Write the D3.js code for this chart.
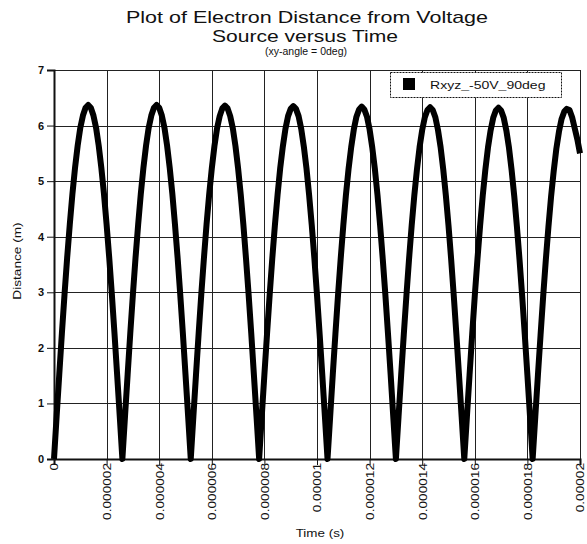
<!DOCTYPE html>
<html>
<head>
<meta charset="utf-8">
<script src="https://cdn.jsdelivr.net/npm/d3@7"></script>
<style>
  html, body { margin: 0; padding: 0; background: #fff; }
  svg { display: block; font-family: "Liberation Sans", Arial, sans-serif; }
</style>
</head>
<body>
<svg id="chart" width="587" height="544"></svg>
<script>
// ---- data ----
const titleLines = ["Plot of Electron Distance from Voltage", "Source versus Time"];
const subtitle = "(xy-angle = 0deg)";
const xLabel = "Time (s)";
const yLabel = "Distance (m)";
const seriesName = "Rxyz_-50V_90deg";

const timeStep = 1e-7; // samples every 0.1 microsecond, 0 .. 2e-5 s
const arch1 = [0,0.77,1.52,2.26,2.96,3.62,4.22,4.77,5.24,5.64,5.96,6.18,6.32,6.37,6.32,6.18,5.96,5.64,5.24,4.77,4.22,3.62,2.96,2.26,1.52,0.77];
const arch2 = [0,0.77,1.52,2.26,2.96,3.62,4.22,4.77,5.24,5.64,5.96,6.18,6.32,6.37,6.32,6.18,5.96,5.64,5.24,4.77,4.22,3.62,2.96,2.26,1.52,0.77];
const arch3 = [0,0.77,1.52,2.26,2.96,3.61,4.22,4.76,5.23,5.63,5.95,6.17,6.31,6.36,6.31,6.17,5.95,5.63,5.23,4.76,4.22,3.61,2.96,2.26,1.52,0.77];
const arch4 = [0,0.77,1.52,2.25,2.95,3.61,4.21,4.75,5.23,5.62,5.94,6.17,6.30,6.35,6.30,6.17,5.94,5.62,5.23,4.75,4.21,3.61,2.95,2.25,1.52,0.77];
const arch5 = [0,0.76,1.52,2.25,2.95,3.60,4.20,4.75,5.22,5.61,5.93,6.16,6.29,6.34,6.29,6.16,5.93,5.61,5.22,4.75,4.20,3.60,2.95,2.25,1.52,0.76];
const arch6 = [0,0.76,1.51,2.24,2.94,3.60,4.20,4.74,5.21,5.61,5.92,6.15,6.28,6.33,6.28,6.15,5.92,5.61,5.21,4.74,4.20,3.60,2.94,2.24,1.51,0.76];
const arch7 = [0,0.76,1.51,2.24,2.94,3.59,4.19,4.73,5.20,5.60,5.91,6.14,6.27,6.32,6.27,6.14,5.91,5.60,5.20,4.73,4.19,3.59,2.94,2.24,1.51,0.76];
const arch8 = [0,0.76,1.51,2.23,2.93,3.58,4.18,4.72,5.18,5.58,5.89,6.12,6.25,6.30,6.28,6.15,5.95,5.75,5.50];

const xTickValues = [0,2e-6,4e-6,6e-6,8e-6,1e-5,1.2e-5,1.4e-5,1.6e-5,1.8e-5,2e-5];
const xTickLabels = ["0","0.000002","0.000004","0.000006","0.000008","0.00001","0.000012","0.000014","0.000016","0.000018","0.00002"];
const yTickValues = [0,1,2,3,4,5,6,7];
const yTickLabels = ["0","1","2","3","4","5","6","7"];

// ---- build ----
const distance = [].concat(arch1, arch2, arch3, arch4, arch5, arch6, arch7, arch8);
const data = distance.map((d, i) => ({ t: i * timeStep, d: d }));

const svg = d3.select("#chart");
const plot = { left: 54, right: 580, top: 70, bottom: 459 };
const FONT = "Liberation Sans, Arial, sans-serif";

const x = d3.scaleLinear().domain([0, 2e-5]).range([plot.left, plot.right]);
const y = d3.scaleLinear().domain([0, 7]).range([plot.bottom, plot.top]);

// the reference's lettering is horizontally wide: stretch along the text direction
function stretch(sel, k) {
  sel.each(function () {
    const w = this.getComputedTextLength();
    d3.select(this).attr("textLength", w * k).attr("lengthAdjust", "spacingAndGlyphs");
  });
}

// titles
svg.append("text").attr("x", 307).attr("y", 23).attr("text-anchor", "middle")
  .attr("font-size", 17).attr("fill", "#111").text(titleLines[0])
  .attr("textLength", 362).attr("lengthAdjust", "spacingAndGlyphs");
svg.append("text").attr("x", 305).attr("y", 41.5).attr("text-anchor", "middle")
  .attr("font-size", 17).attr("fill", "#111").text(titleLines[1])
  .attr("textLength", 186).attr("lengthAdjust", "spacingAndGlyphs");
svg.append("text").attr("x", 306).attr("y", 54.5).attr("text-anchor", "middle")
  .attr("font-size", 10).attr("fill", "#111").text(subtitle)
  .attr("textLength", 82).attr("lengthAdjust", "spacingAndGlyphs");

// grid
const grid = svg.append("g").attr("stroke", "#222").attr("stroke-width", 1);
grid.selectAll("line.h").data(yTickValues.slice(1)).join("line").attr("class", "h")
  .attr("x1", plot.left).attr("x2", plot.right)
  .attr("y1", d => Math.round(y(d)) + 0.5).attr("y2", d => Math.round(y(d)) + 0.5);
grid.selectAll("line.v").data(xTickValues.slice(1)).join("line").attr("class", "v")
  .attr("y1", plot.top).attr("y2", plot.bottom)
  .attr("x1", d => Math.round(x(d)) + 0.5).attr("x2", d => Math.round(x(d)) + 0.5);

// y axis
const yAxis = d3.axisLeft(y).tickValues(yTickValues).tickFormat((d, i) => yTickLabels[i])
  .tickSize(7).tickPadding(3);
const gy = svg.append("g").attr("transform", `translate(${plot.left},0)`).call(yAxis);
gy.select(".domain").attr("stroke", "#111").attr("stroke-width", 2);
gy.selectAll(".tick line").attr("stroke", "#111");
gy.selectAll(".tick text").attr("font-size", 11).attr("font-weight", "bold")
  .attr("fill", "#111").attr("font-family", FONT);

// x axis
const xAxis = d3.axisBottom(x).tickValues(xTickValues).tickFormat((d, i) => xTickLabels[i])
  .tickSize(6).tickPadding(3);
const gx = svg.append("g").attr("transform", `translate(0,${plot.bottom})`).call(xAxis);
gx.select(".domain").attr("stroke", "#111").attr("stroke-width", 2);
gx.selectAll(".tick line").attr("stroke", "#111");
gx.selectAll(".tick text")
  .attr("font-size", 11).attr("fill", "#111").attr("font-family", FONT)
  .attr("text-anchor", "end").attr("dy", "0.35em")
  .attr("transform", "translate(0,4) rotate(-90)")
  .attr("x", 0).attr("y", 0)
  .call(stretch, 1.24);

// axis titles
svg.append("text").attr("x", 320).attr("y", 537).attr("text-anchor", "middle")
  .attr("font-size", 11).attr("fill", "#111").text(xLabel).call(stretch, 1.22);
svg.append("text").attr("transform", "translate(21,261) rotate(-90)")
  .attr("text-anchor", "middle").attr("font-size", 11).attr("fill", "#111").text(yLabel)
  .call(stretch, 1.24);

// series line
const line = d3.line().x(p => x(p.t)).y(p => y(p.d)).curve(d3.curveLinear);
svg.append("path").datum(data).attr("d", line)
  .attr("fill", "none").attr("stroke", "#000").attr("stroke-width", 6)
  .attr("stroke-linejoin", "round").attr("stroke-linecap", "butt");

// legend
const lg = svg.append("g");
lg.append("rect").attr("x", 390.5).attr("y", 72.5).attr("width", 171).attr("height", 25)
  .attr("fill", "#fff").attr("stroke", "#111").attr("stroke-width", 1)
  .attr("stroke-dasharray", "2,1");
lg.append("rect").attr("x", 403).attr("y", 78).attr("width", 12).attr("height", 12).attr("fill", "#000");
lg.append("text").attr("x", 430).attr("y", 89).attr("font-size", 11.5)
  .attr("fill", "#111").text(seriesName).call(stretch, 1.22);
</script>
</body>
</html>
